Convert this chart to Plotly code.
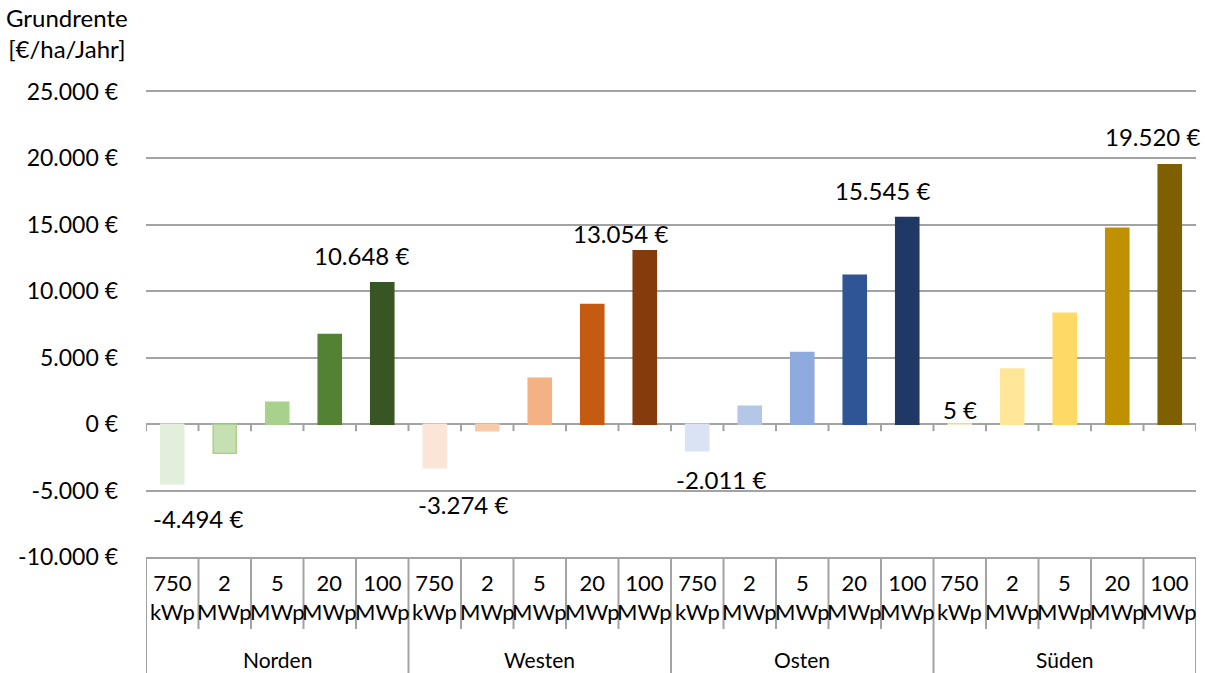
import plotly.graph_objects as go

regions = ["Norden", "Westen", "Osten", "Süden"]
sizes = ["750<br>kWp", "2<br>MWp", "5<br>MWp", "20<br>MWp", "100<br>MWp"]

norden = [-4494, -2200, 1650, 6750, 10648]
westen = [-3274, -500, 3450, 9000, 13054]
osten = [-2011, 1350, 5400, 11200, 15545]
sueden = [5, 4150, 8350, 14750, 19520]

colors_norden = ["#E2EFDA", "#C6E0B4", "#A9D18E", "#548235", "#375623"]
colors_westen = ["#FBE5D6", "#F8CBAD", "#F4B183", "#C55A11", "#843C0C"]
colors_osten = ["#DAE3F3", "#B4C7E7", "#8FAADC", "#2F5597", "#203864"]
colors_sueden = ["#FFF2CC", "#FFE699", "#FFD966", "#BF9000", "#7F6000"]

y_ticks = [-10000, -5000, 0, 5000, 10000, 15000, 20000, 25000]
y_ticktext = ["-10.000 €", "-5.000 €", "0 €", "5.000 €", "10.000 €",
              "15.000 €", "20.000 €", "25.000 €"]

values = norden + westen + osten + sueden
colors = colors_norden + colors_westen + colors_osten + colors_sueden
line_colors = list(colors)
line_colors[1] = "#A9D18E"
n_sizes = len(sizes)
xs = list(range(len(values)))

FONT = "Lato"
FS = 23
GRID = "#A3A3A3"


def fmt(v):
    return f"{v:,}".replace(",", ".") + " €"


fig = go.Figure()
fig.add_trace(go.Bar(
    x=xs, y=values,
    marker=dict(color=colors, line=dict(color=line_colors, width=1.5)),
    width=0.44, hoverinfo="skip",
))

# data labels: first and last bar of each region
label_offsets = {0: (26, -35), 4: (-21, 27), 5: (28, -37), 9: (-24, 17),
                 10: (24, -29), 14: (-25, 27), 15: (0, 15), 19: (-17, 28)}
annotations = []
for i, (dx, dy) in label_offsets.items():
    annotations.append(dict(x=xs[i], y=values[i], xref="x", yref="y",
                            text=fmt(values[i]), showarrow=False,
                            xshift=dx, yshift=dy, yanchor="middle",
                            font=dict(family=FONT, size=24, color="#000")))

# category labels
for i in xs:
    annotations.append(dict(x=i, y=0, xref="x", yref="paper",
                            text=sizes[i % n_sizes], showarrow=False,
                            yanchor="middle", yshift=-40,
                            font=dict(family=FONT, size=22, color="#000")))
for g, r in enumerate(regions):
    center = (xs[g * n_sizes] + xs[g * n_sizes + n_sizes - 1]) / 2
    annotations.append(dict(x=center, y=0, xref="x", yref="paper",
                            text=r, showarrow=False, yanchor="middle",
                            yshift=-102,
                            font=dict(family=FONT, size=21, color="#000")))

annotations.append(dict(x=0, y=1, xref="paper", yref="paper",
                        text="Grundrente<br>[€/ha/Jahr]", showarrow=False,
                        xanchor="center", yanchor="middle", align="center",
                        xshift=-79, yshift=59,
                        font=dict(family=FONT, size=24, color="#000")))

shapes = []
# tick marks on zero line and separators in label area
for k in range(len(xs) + 1):
    xb = k - 0.5
    shapes.append(dict(type="line", xref="x", yref="y", x0=xb, x1=xb,
                       ysizemode="pixel", yanchor=0, y0=0, y1=-7,
                       line=dict(color=GRID, width=2)))
    full = (k % n_sizes == 0)
    shapes.append(dict(type="line", xref="x", yref="paper", x0=xb, x1=xb,
                       ysizemode="pixel", yanchor=0, y0=0,
                       y1=-116 if full else -72,
                       line=dict(color=GRID, width=2)))

fig.update_layout(
    width=1205, height=673,
    margin=dict(l=146, r=9, t=92, b=116),
    paper_bgcolor="white", plot_bgcolor="white",
    showlegend=False,
    annotations=annotations,
    shapes=shapes,
    font=dict(family=FONT, size=FS, color="#000"),
    xaxis=dict(range=[-0.5, len(xs) - 0.5], showticklabels=False,
               showgrid=False, zeroline=False, showline=True, mirror=True,
               linecolor=GRID, linewidth=2, ticks="", automargin=False),
    yaxis=dict(range=[-10000, 25000], tickvals=y_ticks, ticktext=y_ticktext,
               showgrid=True, gridcolor=GRID, gridwidth=2,
               zeroline=True, zerolinecolor=GRID, zerolinewidth=2,
               showline=False, ticks="", ticklabelstandoff=27,
               automargin=False,
               tickfont=dict(family=FONT, size=FS, color="#000")),
)

fig.write_html("out.html",
               config={"displayModeBar": False},
               post_script="document.body.style.margin='0px';"
                           "document.body.style.overflow='hidden';")
